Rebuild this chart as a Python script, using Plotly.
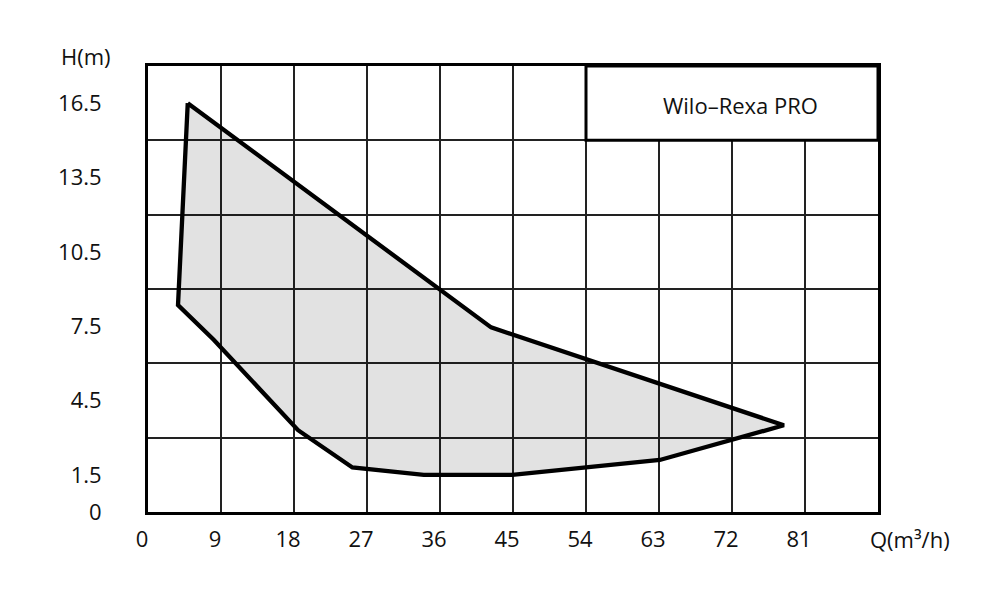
import plotly.graph_objects as go

# Operating range envelope (Q in m³/h, H in m)
q_values = [4.9, 3.7, 8.1, 18.5, 25.2, 34.0, 44.9, 63.1, 78.4, 42.3, 4.9]
h_values = [16.5, 8.35, 6.95, 3.3, 1.8, 1.5, 1.5, 2.1, 3.5, 7.45, 16.5]

x_ticks = [0, 9, 18, 27, 36, 45, 54, 63, 72, 81]
x_tick_labels = ["0", "9", "18", "27", "36", "45", "54", "63", "72", "81"]
y_ticks = [0, 1.5, 4.5, 7.5, 10.5, 13.5, 16.5]
y_tick_labels = ["0", "1.5", "4.5", "7.5", "10.5", "13.5", "16.5"]

series_name = "Wilo–Rexa PRO"
x_title = "Q(m³/h)"
y_title = "H(m)"

FONT = "Open Sans"
FS = 22

fig = go.Figure()
fig.add_trace(go.Scatter(
    x=q_values, y=h_values, mode="lines", fill="toself",
    fillcolor="rgba(0,0,0,0.115)",
    line=dict(color="black", width=4.3),
    hoverinfo="skip", showlegend=False,
))

# Legend box in the upper right grid cells
fig.add_shape(type="rect", x0=54, x1=90, y0=15, y1=18, xref="x", yref="y",
              line=dict(color="black", width=3), fillcolor="white", layer="above")
fig.add_annotation(x=73.1, y=16.42, xref="x", yref="y", text=series_name,
                   showarrow=False, font=dict(family=FONT, size=FS, color="#111"))

fig.add_annotation(x=-0.122, y=1.022, xref="paper", yref="paper", text=y_title,
                   showarrow=False, xanchor="left", yanchor="middle",
                   font=dict(family=FONT, size=FS, color="#111"))
fig.add_annotation(x=0.986, y=-0.06, xref="paper", yref="paper", text=x_title,
                   showarrow=False, xanchor="left", yanchor="middle",
                   font=dict(family=FONT, size=FS, color="#111"))

fig.update_layout(
    width=992, height=591,
    margin=dict(l=140, r=122, t=58, b=87),
    paper_bgcolor="white", plot_bgcolor="white",
    font=dict(family=FONT, size=FS, color="#111"),
    xaxis=dict(
        range=[0, 90], tickmode="array", tickvals=x_ticks, ticktext=x_tick_labels,
        showgrid=True, gridcolor="#222", gridwidth=1.5,
        showline=True, mirror=True, linecolor="black", linewidth=3,
        zeroline=False, ticks="", ticklabelstandoff=6, ticklabelshift=-6,
    ),
    yaxis=dict(
        range=[0, 18], tickmode="array", tickvals=y_ticks, ticktext=y_tick_labels,
        showgrid=False,
        minor=dict(dtick=3, tick0=0, showgrid=True, gridcolor="#222", gridwidth=1.5, ticks=""),
        showline=True, mirror=True, linecolor="black", linewidth=3,
        zeroline=False, ticks="", ticklabelstandoff=39,
    ),
)

fig.write_html("out.html")
